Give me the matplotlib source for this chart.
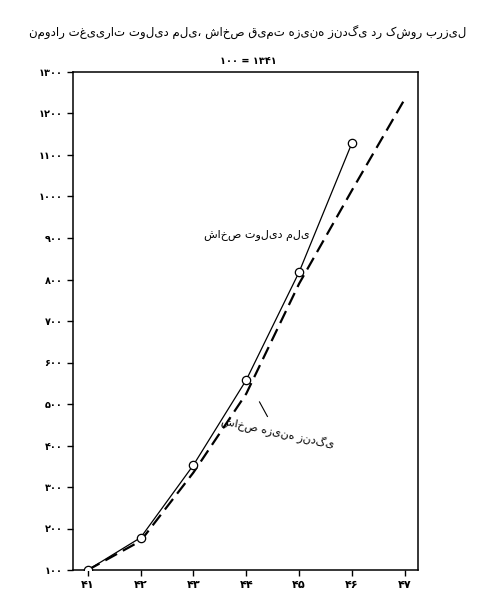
import matplotlib.pyplot as plt

years = [41, 42, 43, 44, 45, 46]
national_product = [100, 178, 353, 558, 818, 1129]
cost_years = [41, 42, 43, 44, 45, 46, 47]
cost_of_living = [100, 170, 335, 525, 790, 1015, 1235]

fa_digits = str.maketrans('0123456789', '۰۱۲۳۴۵۶۷۸۹')
y_ticks = list(range(100, 1301, 100))
x_ticks = list(range(41, 48))

plt.rcParams['font.family'] = ['DejaVu Sans']
fig = plt.figure(figsize=(4.96, 6.0), dpi=100)
ax = fig.add_axes([73 / 496, 30 / 600, 345 / 496, 498 / 600])

ax.plot(years, national_product, color='black', lw=0.9, marker='o', ms=6,
        mfc='white', mec='black', mew=0.9, zorder=3)
ax.plot(cost_years, cost_of_living, color='black', lw=1.6, ls=(0, (6, 3)))

ax.set_xlim(40.72, 47.25)
ax.set_ylim(100, 1300)
ax.set_xticks(x_ticks)
ax.set_xticklabels([str(x).translate(fa_digits) for x in x_ticks],
                   fontsize=8, fontweight='bold')
ax.set_yticks(y_ticks)
ax.set_yticklabels([str(y).translate(fa_digits) for y in y_ticks],
                   fontsize=7, fontweight='bold')
ax.tick_params(length=4, width=1)
for s in ax.spines.values():
    s.set_linewidth(1.1)

ax.text(44.2, 905, 'شاخص تولید ملی', fontsize=8, ha='center', va='center')
ax.text(44.6, 430, 'شاخص هزینه زندگی', fontsize=8, ha='center', va='center',
        rotation=-12)
ax.plot([44.25, 44.4], [505, 470], color='black', lw=0.8)

fig.text(0.5, 0.945, 'نمودار تغییرات تولید ملی، شاخص قیمت هزینه زندگی در کشور برزیل',
         ha='center', va='center', fontsize=8.5)
fig.text(0.5, 0.898, '۱۰۰ = ۱۳۴۱', ha='center', va='center', fontsize=7,
         fontweight='bold')

fig.savefig('out.png', dpi=100)
